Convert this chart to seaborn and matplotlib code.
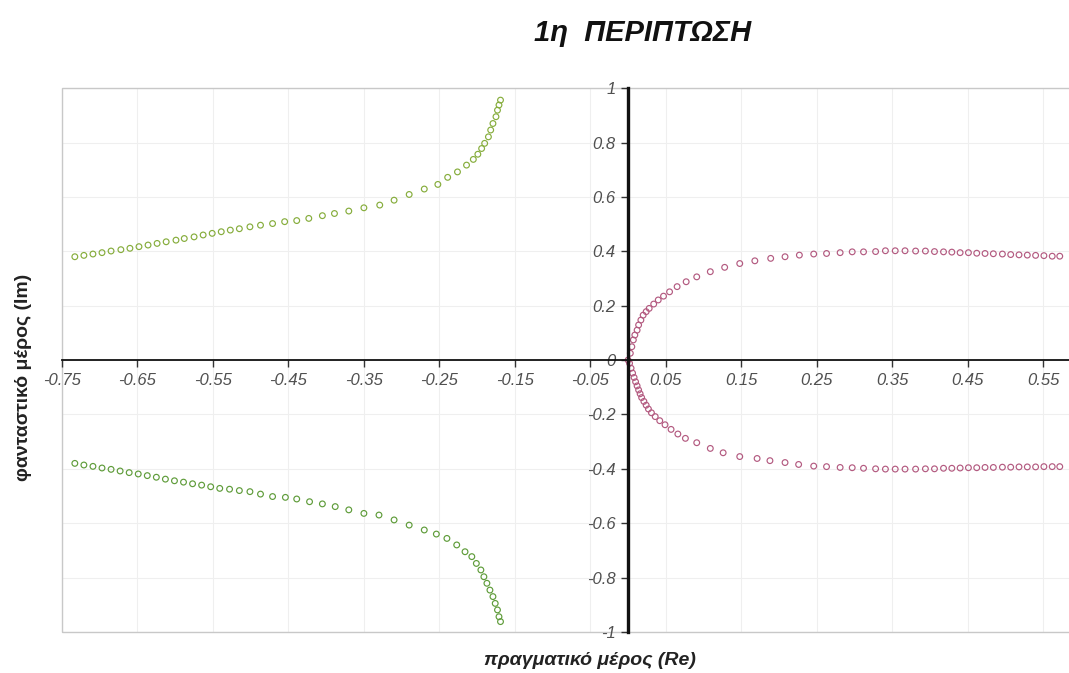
import numpy as np
import pandas as pd
import matplotlib
matplotlib.use("Agg")
import matplotlib.pyplot as plt
from matplotlib.patches import Rectangle
import seaborn as sns

# ---- data ----
upper_left_re = [-0.733, -0.721, -0.709, -0.697, -0.685, -0.672, -0.660, -0.648, -0.636, -0.624,
                 -0.612, -0.599, -0.588, -0.575, -0.563, -0.551, -0.539, -0.527, -0.515, -0.501,
                 -0.487, -0.471, -0.455, -0.439, -0.423, -0.405, -0.389, -0.370, -0.350, -0.329,
                 -0.310, -0.290, -0.270, -0.252, -0.239, -0.226, -0.214, -0.205, -0.199, -0.194,
                 -0.190, -0.185, -0.182, -0.179, -0.175, -0.173, -0.171, -0.169]
upper_left_im = [0.380, 0.385, 0.390, 0.395, 0.401, 0.406, 0.411, 0.417, 0.423, 0.429,
                 0.435, 0.441, 0.447, 0.453, 0.460, 0.466, 0.472, 0.478, 0.483, 0.490,
                 0.496, 0.502, 0.509, 0.513, 0.521, 0.531, 0.539, 0.548, 0.560, 0.570,
                 0.588, 0.609, 0.629, 0.646, 0.672, 0.692, 0.717, 0.738, 0.757, 0.778,
                 0.797, 0.821, 0.846, 0.870, 0.895, 0.919, 0.938, 0.956]

lower_left_re = [-0.733, -0.721, -0.709, -0.697, -0.685, -0.673, -0.661, -0.649, -0.637, -0.625,
                 -0.613, -0.601, -0.589, -0.577, -0.565, -0.553, -0.541, -0.528, -0.515, -0.501,
                 -0.487, -0.471, -0.454, -0.439, -0.422, -0.405, -0.388, -0.370, -0.350, -0.330,
                 -0.310, -0.290, -0.270, -0.254, -0.240, -0.227, -0.216, -0.207, -0.201, -0.195,
                 -0.191, -0.187, -0.183, -0.179, -0.176, -0.173, -0.171, -0.169]
lower_left_im = [-0.380, -0.386, -0.391, -0.397, -0.402, -0.408, -0.414, -0.419, -0.425, -0.431,
                 -0.438, -0.444, -0.449, -0.455, -0.460, -0.466, -0.472, -0.475, -0.480, -0.484,
                 -0.493, -0.502, -0.505, -0.511, -0.521, -0.529, -0.539, -0.551, -0.564, -0.570,
                 -0.588, -0.607, -0.625, -0.640, -0.656, -0.680, -0.705, -0.723, -0.748, -0.772,
                 -0.797, -0.821, -0.846, -0.870, -0.895, -0.919, -0.944, -0.962]

upper_right_re = [0.000, 0.003, 0.005, 0.007, 0.009, 0.012, 0.014, 0.017, 0.020, 0.024,
                  0.028, 0.034, 0.040, 0.047, 0.055, 0.065, 0.077, 0.091, 0.109, 0.128,
                  0.148, 0.168, 0.189, 0.208, 0.227, 0.246, 0.263, 0.281, 0.297, 0.312,
                  0.328, 0.341, 0.354, 0.367, 0.381, 0.394, 0.406, 0.418, 0.429, 0.440,
                  0.451, 0.462, 0.473, 0.484, 0.496, 0.507, 0.518, 0.529, 0.540, 0.551,
                  0.562, 0.572]
upper_right_im = [0.000, 0.025, 0.049, 0.074, 0.092, 0.110, 0.129, 0.147, 0.165, 0.178,
                  0.190, 0.206, 0.221, 0.235, 0.251, 0.270, 0.288, 0.306, 0.325, 0.341,
                  0.355, 0.365, 0.374, 0.380, 0.386, 0.390, 0.392, 0.395, 0.398, 0.398,
                  0.399, 0.402, 0.402, 0.402, 0.401, 0.401, 0.399, 0.398, 0.397, 0.395,
                  0.395, 0.393, 0.392, 0.391, 0.390, 0.388, 0.387, 0.386, 0.385, 0.384,
                  0.382, 0.382]

lower_right_re = [0.002, 0.004, 0.006, 0.008, 0.010, 0.012, 0.014, 0.016, 0.018, 0.021,
                  0.024, 0.027, 0.031, 0.036, 0.042, 0.049, 0.057, 0.066, 0.076, 0.091,
                  0.109, 0.126, 0.148, 0.171, 0.188, 0.208, 0.226, 0.246, 0.263, 0.281,
                  0.297, 0.312, 0.328, 0.341, 0.354, 0.367, 0.381, 0.394, 0.406, 0.418,
                  0.429, 0.440, 0.451, 0.462, 0.473, 0.484, 0.496, 0.507, 0.518, 0.529,
                  0.540, 0.551, 0.562, 0.572]
lower_right_im = [-0.012, -0.030, -0.048, -0.064, -0.080, -0.095, -0.110, -0.124, -0.138, -0.152,
                  -0.166, -0.180, -0.194, -0.208, -0.223, -0.238, -0.255, -0.272, -0.288, -0.304,
                  -0.325, -0.341, -0.355, -0.362, -0.370, -0.377, -0.384, -0.390, -0.392, -0.395,
                  -0.396, -0.398, -0.400, -0.401, -0.401, -0.401, -0.401, -0.400, -0.400, -0.398,
                  -0.398, -0.397, -0.396, -0.396, -0.395, -0.395, -0.394, -0.394, -0.393, -0.393,
                  -0.393, -0.392, -0.392, -0.392]

series_names = ["upper_left", "lower_left", "upper_right", "lower_right"]
series_colors = {"upper_left": "#86ad3c", "lower_left": "#5f9c3a",
                 "upper_right": "#b35a80", "lower_right": "#b35a80"}

x_ticks = [-0.75, -0.65, -0.55, -0.45, -0.35, -0.25, -0.15, -0.05, 0.05, 0.15, 0.25, 0.35, 0.45, 0.55]
x_tick_labels = ["-0.75", "-0.65", "-0.55", "-0.45", "-0.35", "-0.25", "-0.15", "-0.05",
                 "0.05", "0.15", "0.25", "0.35", "0.45", "0.55"]
y_ticks = [-1, -0.8, -0.6, -0.4, -0.2, 0, 0.2, 0.4, 0.6, 0.8, 1]
y_tick_labels = ["-1", "-0.8", "-0.6", "-0.4", "-0.2", "0", "0.2", "0.4", "0.6", "0.8", "1"]

title = "1η  ΠΕΡΙΠΤΩΣΗ"
x_label = "πραγματικό μέρος (Re)"
y_label = "φανταστικό μέρος (Im)"

# ---- build frame ----
frames = []
for name, xs, ys in [("upper_left", upper_left_re, upper_left_im),
                     ("lower_left", lower_left_re, lower_left_im),
                     ("upper_right", upper_right_re, upper_right_im),
                     ("lower_right", lower_right_re, lower_right_im)]:
    frames.append(pd.DataFrame({"Re": xs, "Im": ys, "series": name}))
df = pd.concat(frames, ignore_index=True)

sns.set_style("white")
plt.rcParams["font.family"] = ["Liberation Sans", "DejaVu Sans"]

fig = plt.figure(figsize=(10.69, 6.73), dpi=100)
ax = fig.add_axes([0.058, 0.061, 0.945, 0.808])

sns.scatterplot(data=df, x="Re", y="Im", hue="series", hue_order=series_names,
                palette=series_colors, s=17, linewidth=0.85, legend=False, ax=ax)
for coll in ax.collections:
    fc = coll.get_facecolors()
    coll.set_edgecolors(fc)
    coll.set_facecolors("none")

ax.set_xlim(-0.75, 0.5885)
ax.set_ylim(-1, 1)

# faint gridlines
for xv in x_ticks:
    ax.axvline(xv, color="#efefef", lw=0.8, zorder=0)
for yv in y_ticks:
    ax.axhline(yv, color="#efefef", lw=0.8, zorder=0)

# axes crossing at zero
for side in ["top", "right"]:
    ax.spines[side].set_visible(False)
ax.spines["left"].set_position(("data", 0))
ax.spines["bottom"].set_position(("data", 0))
ax.spines["left"].set_color("#111111")
ax.spines["left"].set_linewidth(2.4)
ax.spines["bottom"].set_color("#111111")
ax.spines["bottom"].set_linewidth(1.3)
ax.add_patch(Rectangle((0, 0), 1, 1, transform=ax.transAxes, fill=False,
                       edgecolor="#c8c8c8", lw=1.0, zorder=0.5, clip_on=False))

ax.set_xticks(x_ticks)
ax.set_xticklabels(x_tick_labels)
ax.set_yticks(y_ticks)
ax.set_yticklabels(y_tick_labels)
ax.tick_params(axis="both", which="major", direction="out", length=5, width=1,
               color="#333333", labelsize=12, labelcolor="#505050", pad=4,
               left=True, bottom=True)
for lab in ax.get_xticklabels() + ax.get_yticklabels():
    lab.set_fontstyle("italic")

ax.set_xlabel("")
ax.set_ylabel("")
fig.text(0.552, 0.018, x_label, ha="center", va="center", fontsize=14,
         fontweight="bold", fontstyle="italic", color="#222222")
fig.text(0.022, 0.44, y_label, ha="center", va="center", rotation=90,
         fontsize=14, fontweight="bold", color="#222222")
fig.text(0.601, 0.951, title, ha="center", va="center", fontsize=21,
         fontweight="bold", fontstyle="italic", color="#111111")

fig.savefig("out.png", dpi=100, facecolor="white")
